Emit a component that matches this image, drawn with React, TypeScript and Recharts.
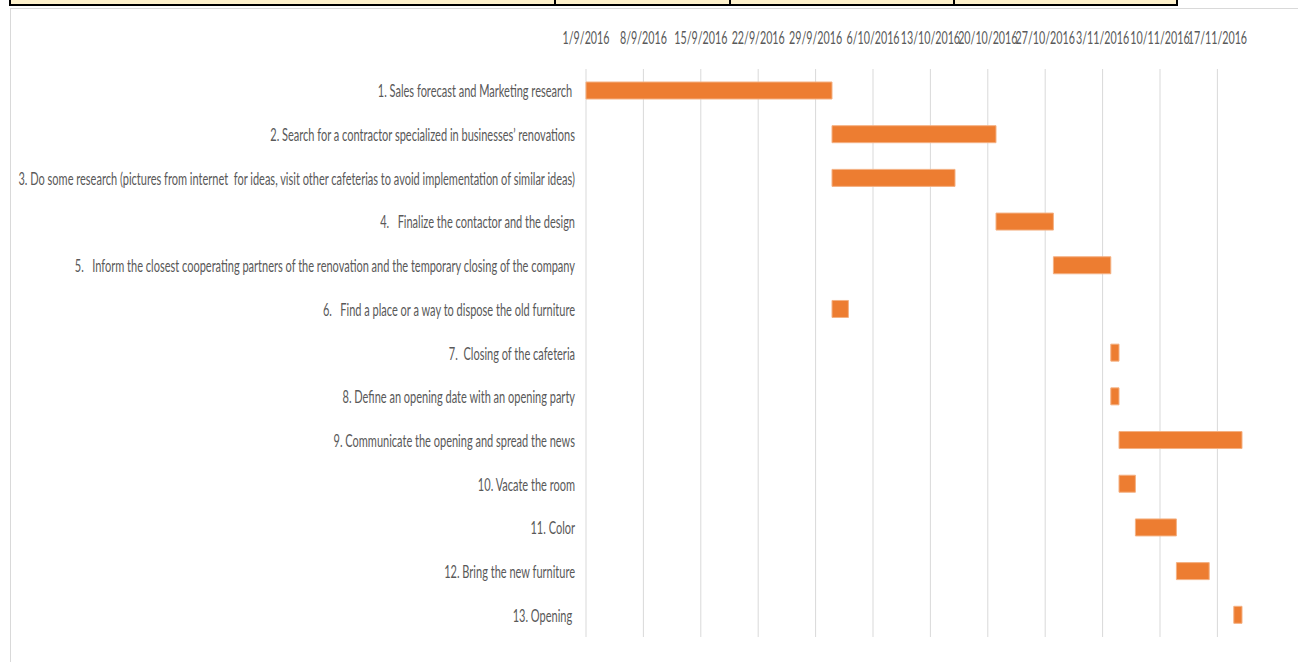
import { BarChart, Bar, XAxis, YAxis, CartesianGrid } from 'recharts'

const tasks = [
  '1. Sales forecast and Marketing research ',
  '2. Search for a contractor specialized in businesses\u2019 renovations',
  '3. Do some research (pictures from internet  for ideas, visit other cafeterias to avoid implementation of similar ideas)',
  '4.   Finalize the contactor and the design',
  '5.   Inform the closest cooperating partners of the renovation and the temporary closing of the company',
  '6.   Find a place or a way to dispose the old furniture',
  '7.  Closing of the cafeteria',
  '8. Define an opening date with an opening party',
  '9. Communicate the opening and spread the news',
  '10. Vacate the room',
  '11. Color',
  '12. Bring the new furniture',
  '13. Opening ',
]

const startDates = [
  '1/9/2016', '1/10/2016', '1/10/2016', '21/10/2016', '28/10/2016', '1/10/2016', '4/11/2016',
  '4/11/2016', '5/11/2016', '5/11/2016', '7/11/2016', '12/11/2016', '19/11/2016',
]

// length of each task in days
const durations = [30, 20, 15, 7, 7, 2, 1, 1, 15, 2, 5, 4, 1]

const tickLabels = [
  '1/9/2016', '8/9/2016', '15/9/2016', '22/9/2016', '29/9/2016', '6/10/2016',
  '13/10/2016', '20/10/2016', '27/10/2016', '3/11/2016', '10/11/2016', '17/11/2016',
]

const axisStart = '1/9/2016'
const axisEnd = '20/11/2016'

const toDay = (d: string) => {
  const [dd, mm, yy] = d.split('/').map(Number)
  const [sd, sm, sy] = axisStart.split('/').map(Number)
  return Math.round((Date.UTC(yy, mm - 1, dd) - Date.UTC(sy, sm - 1, sd)) / 86400000)
}

const data = tasks.map((name, i) => ({
  name,
  offset: toDay(startDates[i]),
  duration: durations[i],
}))

const ticks = tickLabels.map(toDay)
const domainMax = toDay(axisEnd)
const labelFor = (v: number) => tickLabels[ticks.indexOf(v)] ?? ''

const FONT = 'Lato, "Open Sans", sans-serif'
const GREY = '#595959'

// vertical gridlines only at the weekly ticks (not at the end of the domain)
const gridX = ({ xAxis, offset }: any) => {
  const s = xAxis?.scale
  if (typeof s === 'function') return ticks.map((t) => s(t))
  return ticks.map((t) => offset.left + (t / domainMax) * offset.width)
}

function TaskTick({ x, y, payload }: any) {
  return (
    <text
      transform={`translate(${x},${y}) scale(0.648,1)`}
      textAnchor="end"
      dominantBaseline="central"
      fill={GREY}
      fontSize={17}
      fontFamily={FONT}
      style={{ whiteSpace: 'pre' }}
    >
      {payload.value}
    </text>
  )
}

function DateTick({ x, y, payload }: any) {
  return (
    <text
      transform={`translate(${x},${y - 24}) scale(0.63,1)`}
      textAnchor="middle"
      dominantBaseline="central"
      fill={GREY}
      fontSize={17}
      fontFamily={FONT}
    >
      {labelFor(payload.value)}
    </text>
  )
}

const cells = [
  { left: 9, width: 545 },
  { left: 554, width: 175 },
  { left: 729, width: 224 },
  { left: 953, width: 225 },
]

export default function App() {
  return (
    <div style={{ position: 'absolute', left: 0, top: 0, width: 1298, height: 662, background: '#fff', overflow: 'hidden' }}>
      {/* chart area frame */}
      <div
        style={{
          position: 'absolute', left: 10, top: 8, right: -2, bottom: -2,
          borderTop: '1px solid #d9d9d9', borderLeft: '1px solid #d9d9d9',
        }}
      />
      {/* bottom edge of the spreadsheet table above the chart */}
      {cells.map((c, i) => (
        <div
          key={i}
          style={{
            position: 'absolute', left: c.left, top: -4, width: c.width, height: 10,
            background: '#fff2cc', borderLeft: '2px solid #000', borderRight: i === cells.length - 1 ? '2px solid #000' : undefined,
            borderBottom: '2px solid #000', boxSizing: 'border-box',
          }}
        />
      ))}
      <div style={{ position: 'absolute', left: 0, top: 0 }}>
        <BarChart
          width={1298}
          height={662}
          data={data}
          layout="vertical"
          barSize={17}
          margin={{ top: 39, right: 56, bottom: 25, left: 0 }}
        >
          <CartesianGrid horizontal={false} stroke="#d9d9d9" verticalCoordinatesGenerator={gridX} />
          <XAxis
            type="number"
            orientation="top"
            domain={[0, domainMax]}
            ticks={ticks}
            height={30}
            axisLine={false}
            tickLine={false}
            interval={0}
            tick={<DateTick />}
          />
          <YAxis
            type="category"
            dataKey="name"
            width={586}
            axisLine={false}
            tickLine={false}
            tickMargin={5}
            interval={0}
            tick={<TaskTick />}
          />
          <Bar dataKey="offset" stackId="g" fill="transparent" isAnimationActive={false} />
          <Bar dataKey="duration" stackId="g" fill="#ed7d31" stroke="#f4b183" strokeWidth={1} isAnimationActive={false} />
        </BarChart>
      </div>
    </div>
  )
}
